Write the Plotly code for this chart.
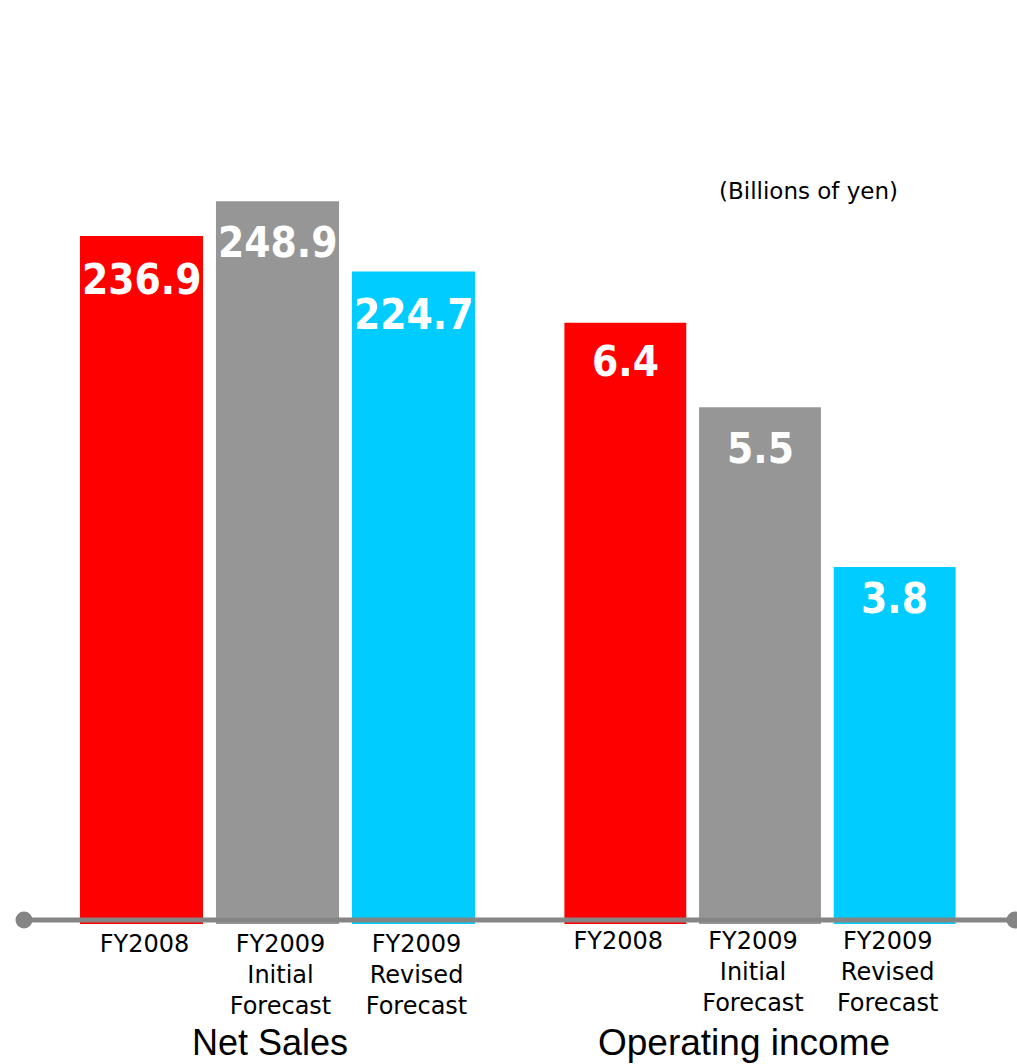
import plotly.graph_objects as go

# Categories and values (billions of yen)
categories = ["FY2008", "FY2009 Initial Forecast", "FY2009 Revised Forecast"]
tick_labels = ["FY2008", "FY2009<br>Initial<br>Forecast", "FY2009<br>Revised<br>Forecast"]
net_sales = [236.9, 248.9, 224.7]
operating_income = [6.4, 5.5, 3.8]
value_labels_sales = ["236.9", "248.9", "224.7"]
value_labels_income = ["6.4", "5.5", "3.8"]
group_titles = ["Net Sales", "Operating income"]
unit_note = "(Billions of yen)"

bar_colors = ["#FF0000", "#969696", "#00CCFF"]

# Vertical pixel offsets of the value labels below each bar top
label_shift_sales = [-43, -41, -43]
label_shift_income = [-39, -41, -31]

W, H = 1017, 1064
base_px = 924  # bar baseline, pixels from top


def px_x(p):
    return p / W


def px_y(p):
    return 1 - p / H


fig = go.Figure()

fig.add_trace(go.Bar(
    x=categories, y=net_sales, marker=dict(color=bar_colors, line=dict(width=0)),
    xaxis="x", yaxis="y", showlegend=False, hoverinfo="skip",
))
fig.add_trace(go.Bar(
    x=categories, y=operating_income, marker=dict(color=bar_colors, line=dict(width=0)),
    xaxis="x2", yaxis="y2", showlegend=False, hoverinfo="skip",
))

annotations = []
label_font = dict(family="DejaVu Sans Condensed, DejaVu Sans, sans-serif", size=42, color="white")
for cat, v, t, s in zip(categories, net_sales, value_labels_sales, label_shift_sales):
    annotations.append(dict(x=cat, y=v, xref="x", yref="y", text=f"<b>{t}</b>",
                            showarrow=False, yanchor="middle", yshift=s, font=label_font))
for cat, v, t, s in zip(categories, operating_income, value_labels_income, label_shift_income):
    annotations.append(dict(x=cat, y=v, xref="x2", yref="y2", text=f"<b>{t}</b>",
                            showarrow=False, yanchor="middle", yshift=s, font=label_font))

# Group titles sit at the bottom edge of the figure
annotations.append(dict(x=px_x(270), y=0, xref="paper", yref="paper", text=group_titles[0],
                        showarrow=False, xanchor="center", yanchor="bottom", borderpad=0,
                        font=dict(family="Liberation Sans, Arial, sans-serif", size=36, color="black")))
annotations.append(dict(x=px_x(744), y=0, xref="paper", yref="paper", text=group_titles[1],
                        showarrow=False, xanchor="center", yanchor="bottom", borderpad=0,
                        font=dict(family="Liberation Sans, Arial, sans-serif", size=37, color="black")))
annotations.append(dict(x=px_x(808), y=px_y(191), xref="paper", yref="paper", text=unit_note,
                        showarrow=False, xanchor="center", yanchor="middle",
                        font=dict(family="DejaVu Sans, sans-serif", size=23, color="black")))

# Baseline with round end caps
line_y = px_y(920)
shapes = [
    dict(type="line", xref="paper", yref="paper", x0=px_x(24), x1=px_x(1015), y0=line_y, y1=line_y,
         line=dict(color="#858585", width=5), layer="above"),
]
r = 8.5
for cx in (24, 1015):
    shapes.append(dict(type="circle", xref="paper", yref="paper",
                       x0=px_x(cx - r), x1=px_x(cx + r), y0=px_y(920 + r), y1=px_y(920 - r),
                       fillcolor="#858585", line=dict(width=0), layer="above"))

ydom = [(H - base_px) / H, 1]
tick_font = dict(family="DejaVu Sans, sans-serif", size=24, color="black")

fig.update_layout(
    width=W, height=H,
    margin=dict(l=0, r=0, t=0, b=0),
    paper_bgcolor="white", plot_bgcolor="white",
    bargap=0.095,
    xaxis=dict(domain=[px_x(73.5), px_x(481.5)], tickmode="array", tickvals=categories,
               ticktext=tick_labels, tickfont=tick_font, showgrid=False, zeroline=False,
               showline=False, ticks="", anchor="y", ticklabelshift=3, ticklabelstandoff=3),
    xaxis2=dict(domain=[px_x(558), px_x(962)], tickmode="array", tickvals=categories,
                ticktext=tick_labels, tickfont=tick_font, showgrid=False, zeroline=False,
                showline=False, ticks="", anchor="y2", ticklabelshift=-7, ticklabelstandoff=0),
    yaxis=dict(domain=ydom, range=[0, base_px / 2.904], visible=False, fixedrange=True),
    yaxis2=dict(domain=ydom, range=[0, base_px / 93.94], visible=False, fixedrange=True,
                anchor="x2"),
    annotations=annotations,
    shapes=shapes,
)

fig.write_html("out.html")
